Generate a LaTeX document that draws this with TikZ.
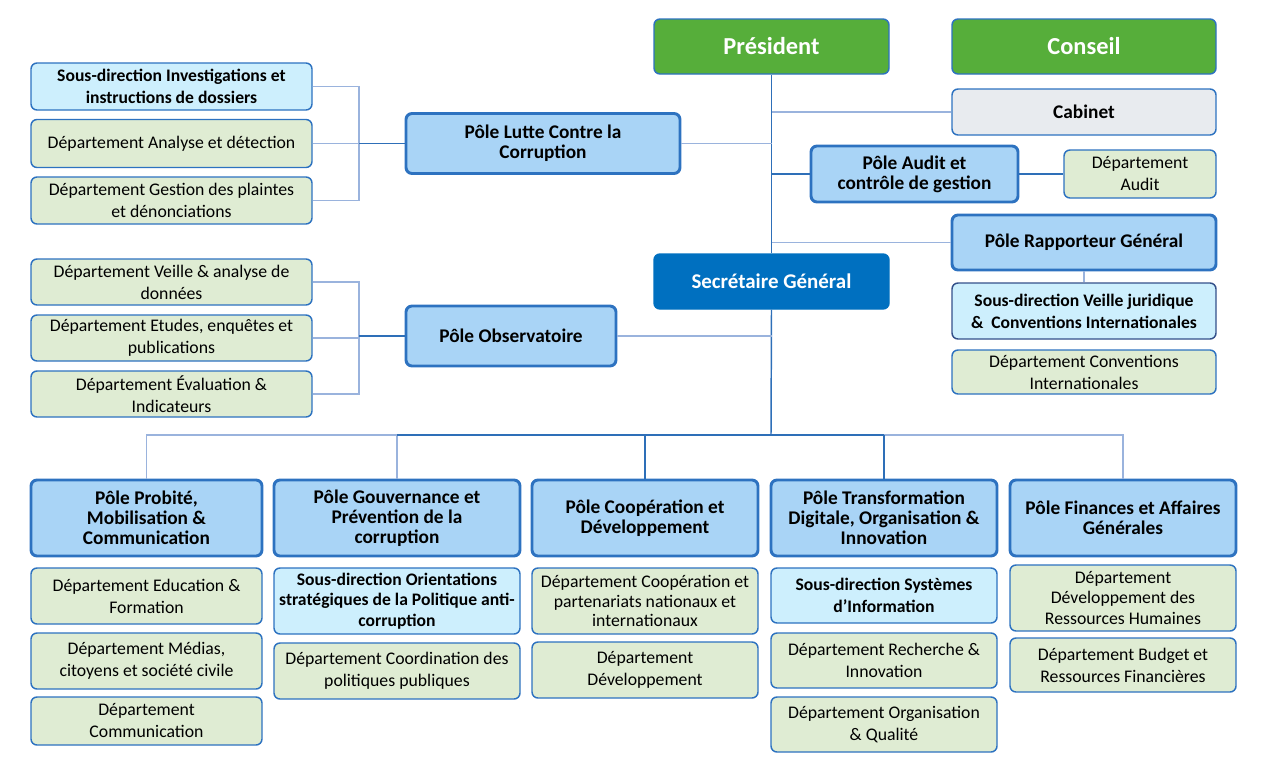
\documentclass[tikz,border=0pt]{standalone}
\usepackage{fontspec}
\setmainfont{Carlito}
\definecolor{borderBlue}{HTML}{2D72C0}
\definecolor{lineBlue}{HTML}{2E6FB8}
\definecolor{lineLight}{HTML}{9AB3DD}
\definecolor{headGreen}{HTML}{56AE3A}
\definecolor{sgBlue}{HTML}{0070C0}
\definecolor{poleBlue}{HTML}{A9D4F6}
\definecolor{sdCyan}{HTML}{CDEFFD}
\definecolor{deptGreen}{HTML}{DFECD3}
\definecolor{cabGray}{HTML}{E8EBEF}
\definecolor{navyBorder}{HTML}{34508A}

\tikzset{every picture/.style={line width=0.75pt}}
\tikzset{
  box/.style={rectangle, rounded corners=4.5pt, draw=borderBlue, line width=1.1pt, align=center, inner sep=2pt, text=black, font=\fontsize{13.3}{16.5}\selectfont},
  dept/.style={box, fill=deptGreen},
  sousdir/.style={box, fill=sdCyan, font=\bfseries\fontsize{13.2}{16.5}\selectfont},
  pole/.style={box, fill=poleBlue, line width=2.2pt, font=\bfseries\fontsize{14.5}{15}\selectfont},
  head/.style={box, fill=headGreen, text=white, font=\bfseries\fontsize{18.3}{20}\selectfont},
  trunk/.style={draw=lineBlue, line width=1.1pt},
  branch/.style={draw=lineLight, line width=1.1pt},
}

\begin{document}
\begin{tikzpicture}[x=0.75pt,y=0.75pt,yscale=-1,xscale=1]
\path[use as bounding box] (0,0) rectangle (1283,778);

%Top: President, Conseil, Cabinet
\node[head, minimum width=176.25pt, minimum height=41.25pt] (pres) at (771.5,46.5) {Président};
\node[head, minimum width=198pt, minimum height=41.25pt] (cons) at (1084,46.5) {Conseil};
\node[box, fill=cabGray, minimum width=198pt, minimum height=34.5pt, font=\bfseries\fontsize{14.5}{16}\selectfont] (cab) at (1084,112) {Cabinet};

%Right column
\node[pole, minimum width=155.25pt, minimum height=42pt] (audit) at (914.5,174) {Pôle Audit et\\contrôle de gestion};
\node[dept, minimum width=114pt, minimum height=36pt] (daudit) at (1140,174) {Département\\Audit};
\node[pole, minimum width=198pt, minimum height=41.25pt] (rapp) at (1084,242.5) {Pôle Rapporteur Général};
\node[sousdir, draw=navyBorder, minimum width=198pt, minimum height=42pt] (sdveille) at (1084,311) {Sous-direction Veille juridique\\\&~ Conventions Internationales};
\node[dept, minimum width=198pt, minimum height=33pt] (dconv) at (1084,372) {Département Conventions\\Internationales};

%Secretaire General
\node[box, fill=sgBlue, draw=sgBlue, text=white, minimum width=176.25pt, minimum height=41.25pt, font=\bfseries\fontsize{15.7}{17}\selectfont] (sg) at (771.5,281.5) {Secrétaire Général};

%Left: Pole Lutte
\node[pole, minimum width=205.5pt, minimum height=45pt] (lutte) at (543,143.5) {Pôle Lutte Contre la\\Corruption};
\node[sousdir, minimum width=210.75pt, minimum height=35.25pt] (sdinv) at (171.5,86.5) {Sous-direction Investigations et\\instructions de dossiers};
\node[dept, minimum width=210.75pt, minimum height=36pt] (dana) at (171.5,143.5) {Département Analyse et détection};
\node[dept, minimum width=210.75pt, minimum height=35.25pt] (dgest) at (171.5,200.5) {Département Gestion des plaintes\\et dénonciations};

%Left: Pole Observatoire
\node[pole, minimum width=157.5pt, minimum height=45pt] (obs) at (511,336) {Pôle Observatoire};
\node[dept, minimum width=210.75pt, minimum height=34.5pt] (dveil) at (171.5,282) {Département Veille \& analyse de\\données};
\node[dept, minimum width=210.75pt, minimum height=34.5pt] (detud) at (171.5,338) {Département Etudes, enquêtes et\\publications};
\node[dept, minimum width=210.75pt, minimum height=34.5pt] (deval) at (171.5,394) {Département Évaluation \&\\Indicateurs};

%Bottom poles
\node[pole, minimum width=173.25pt, minimum height=57pt] (probite) at (146.5,518) {Pôle Probité,\\Mobilisation \&\\Communication};
\node[pole, minimum width=184.5pt, minimum height=57pt] (gouv) at (397,518) {Pôle Gouvernance et\\Prévention de la\\corruption};
\node[pole, minimum width=169.5pt, minimum height=57pt] (coop) at (645,518) {Pôle Coopération et\\Développement};
\node[pole, minimum width=169.5pt, minimum height=57pt] (transf) at (884,518) {Pôle Transformation\\Digitale, Organisation \&\\Innovation};
\node[pole, minimum width=169.5pt, minimum height=57pt] (fin) at (1123,518) {Pôle Finances et Affaires\\Générales};

%Column 1
\node[dept, minimum width=173.25pt, minimum height=42pt] (deduc) at (146.5,596) {Département Education \&\\Formation};
\node[dept, minimum width=173.25pt, minimum height=42pt] (dmedia) at (146.5,661) {Département Médias,\\citoyens et société civile};
\node[dept, minimum width=173.25pt, minimum height=36pt] (dcomm) at (146.5,721) {Département\\Communication};
%Column 2
\node[sousdir, minimum width=184.5pt, minimum height=49.5pt, font=\bfseries\fontsize{13.2}{15.5}\selectfont] (sdorient) at (397,601) {Sous-direction Orientations\\stratégiques de la Politique anti-\\corruption};
\node[dept, minimum width=184.5pt, minimum height=42pt] (dcoord) at (397,671) {Département Coordination des\\politiques publiques};
%Column 3
\node[dept, minimum width=169.5pt, minimum height=49.5pt, font=\fontsize{13.3}{14.5}\selectfont] (dcoopp) at (645,601) {Département Coopération et\\partenariats nationaux et\\internationaux};
\node[dept, minimum width=169.5pt, minimum height=42pt] (ddev) at (645,670) {Département\\Développement};
%Column 4
\node[sousdir, minimum width=169.5pt, minimum height=41.25pt] (sdsys) at (884,595.5) {Sous-direction Systèmes\\d’Information};
\node[dept, minimum width=169.5pt, minimum height=41.25pt] (drech) at (884,660.5) {Département Recherche \&\\Innovation};
\node[dept, minimum width=169.5pt, minimum height=41.25pt] (dorg) at (884,724.5) {Département Organisation\\\& Qualité};
%Column 5
\node[dept, minimum width=169.5pt, minimum height=49.5pt, font=\fontsize{13.3}{15.5}\selectfont] (drh) at (1123,598) {Département\\Développement des\\Ressources Humaines};
\node[dept, minimum width=169.5pt, minimum height=40.5pt] (dbud) at (1123,665) {Département Budget et\\Ressources Financières};

%Trunk
\coordinate (bus) at (771,435);
\draw[trunk] (pres.south) -- (sg.north);
\draw[trunk] (sg.south) -- (bus);
%Branches from trunk
\draw[branch] (pres.south |- cab.west) -- (cab.west);
\draw[branch] (lutte.east) -- (lutte.east -| pres.south);
\draw[trunk] (audit.west -| pres.south) -- (audit.west);
\draw[trunk] (audit.east) -- (daudit.west);
\draw[branch] (rapp.west -| pres.south) -- (rapp.west);
\draw[branch] (rapp.south) -- (sdveille.north);
\draw[branch] (obs.east) -- (obs.east -| sg.south);

%Left brackets
\coordinate (lk) at (359,143.5);
\draw[branch] (sdinv.east) -| (lk) |- (dgest.east);
\draw[branch] (dana.east) -- (lk);
\draw[trunk] (lk) -- (lutte.west);
\coordinate (ok) at (359,336);
\draw[branch] (dveil.east) -| (ok) |- (deval.east);
\draw[branch] (detud.east) -- (detud.east -| ok);
\draw[trunk] (ok) -- (obs.west);

%Bottom bus
\draw[branch] (probite.north) |- (gouv.north |- bus) -- (gouv.north);
\draw[trunk] (gouv.north |- bus) -- (transf.north |- bus);
\draw[branch] (transf.north |- bus) -| (fin.north);
\draw[trunk] (coop.north |- bus) -- (coop.north);
\draw[trunk] (transf.north |- bus) -- (transf.north);

\end{tikzpicture}
\end{document}
